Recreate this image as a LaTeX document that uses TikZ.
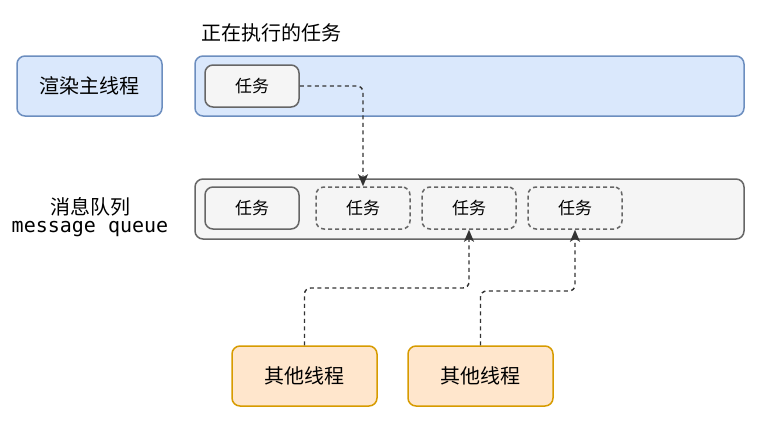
\documentclass[tikz,border=0pt]{standalone}
\usepackage{fontspec}
\usepackage{tikz}
\usetikzlibrary{arrows.meta}
\newfontfamily\cjk{Noto Sans CJK SC}
\newfontfamily\mono{DejaVu Sans Mono}
\definecolor{blueFill}{HTML}{DAE8FC}
\definecolor{blueLine}{HTML}{6C8EBF}
\definecolor{grayFill}{HTML}{F5F5F5}
\definecolor{grayLine}{HTML}{666666}
\definecolor{orangeFill}{HTML}{FFE6CC}
\definecolor{orangeLine}{HTML}{D79B00}
\definecolor{arrowGray}{HTML}{333333}

\begin{document}
\begin{tikzpicture}[x=1pt, y=-1pt,
  every node/.style={font=\cjk\fontsize{20}{24}\selectfont, text=black},
  box/.style={draw, rounded corners=8pt, line width=1.5pt},
  blueband/.style={box, fill=blueFill, draw=blueLine, minimum width=549pt, minimum height=60pt},
  grayband/.style={box, fill=grayFill, draw=grayLine, minimum width=549pt, minimum height=60pt},
  thread/.style={box, fill=blueFill, draw=blueLine, minimum width=145pt, minimum height=60pt},
  other/.style={box, fill=orangeFill, draw=orangeLine, minimum width=145pt, minimum height=60pt},
  task/.style={box, fill=grayFill, draw=grayLine, minimum width=94pt, minimum height=42pt, font=\cjk\fontsize{17}{20}\selectfont},
  waiting/.style={task, dashed, dash pattern=on 4pt off 3pt},
  flow/.style={draw=arrowGray, line width=1.4pt, dash pattern=on 4pt off 3.5pt, rounded corners=6pt, -{Stealth[length=12pt,width=10pt,inset=3pt]}}]
\useasboundingbox (0,0) rectangle (769,431);

% main thread
\node[thread] (render) at (89.5,86) {渲染主线程};
\node (title) at (271,33) {正在执行的任务};
\node[blueband] (mainband) at (469.5,86) {};
\node[task] (t0) at (252,86) {任务};

% queue
\node (qlabel) at (90,207) {消息队列};
\node (qlabel2) at (90,229) {\mono\fontsize{20}{24}\selectfont message queue};
\node[grayband] (queue) at (469.5,209) {};
\node[task] (q1) at (252,208) {任务};
\node[waiting] (q2) at (363,208) {任务};
\node[waiting] (q3) at (469,208) {任务};
\node[waiting] (q4) at (575,208) {任务};

% other threads
\node[other] (o1) at (304.5,376) {其他线程};
\node[other] (o2) at (480.5,376) {其他线程};

\draw[flow] (t0.east) -| (q2.north);
\draw[flow] (o1.north) -- (o1.north |- 0,288) -| (q3.south);
\draw[flow] (o2.north) -- (o2.north |- 0,291) -| (q4.south);
\end{tikzpicture}
\end{document}
